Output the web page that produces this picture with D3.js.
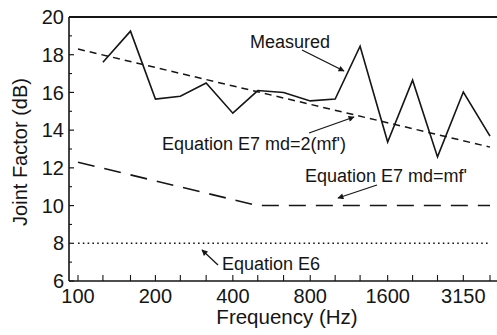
<!DOCTYPE html>
<html>
<head>
<meta charset="utf-8">
<script src="https://cdn.jsdelivr.net/npm/d3@7/dist/d3.min.js"></script>
<style>
  html, body { margin: 0; padding: 0; background: #fff; }
  svg { display: block; font-family: "Liberation Sans", Arial, Helvetica, sans-serif; }
</style>
</head>
<body>
<svg id="chart" width="497" height="335"></svg>
<script>
// ---- data ----
const bands = [100,125,160,200,250,315,400,500,630,800,1000,1250,1600,2000,2500,3150,4000];
const measuredFreq = [125,160,200,250,315,400,500,630,800,1000,1250,1600,2000,2500,3150,4000];
const measured =     [17.6,19.25,15.65,15.8,16.5,14.9,16.1,16.0,15.55,15.65,18.45,13.37,16.65,12.58,16.02,13.68];
const e7TwoFreq = [100, 4000];
const e7Two =     [18.3, 13.1];
const e7OneFreq = [100, 500, 4000];
const e7One =     [12.3, 10.0, 10.0];
const e6Freq = [100, 4000];
const e6 =     [8, 8];
const yTicks = [6, 8, 10, 12, 14, 16, 18, 20];
const yMinor = [7, 9, 11, 13, 15, 17, 19];
const xLabels = [100, 200, 400, 800, 1600, 3150];

// ---- layout ----
const svg = d3.select("#chart");
const pL = 69, pR = 497, pT = 17, pB = 281;
const x = d3.scaleLog().domain([100, 4000]).range([78, 490]);
const y = d3.scaleLinear().domain([6, 20]).range([pB, pT]);
const ink = "#151515";

// axes lines
svg.append("line").attr("x1", pL).attr("x2", pL).attr("y1", pT).attr("y2", pB)
  .attr("stroke", ink).attr("stroke-width", 1.6);
svg.append("line").attr("x1", pL).attr("x2", pR).attr("y1", pB).attr("y2", pB)
  .attr("stroke", ink).attr("stroke-width", 1.6);
svg.append("line").attr("x1", pL).attr("x2", pR).attr("y1", pT).attr("y2", pT)
  .attr("stroke", ink).attr("stroke-width", 1.8);

// y ticks (inward)
svg.append("g").selectAll("line").data(yTicks).join("line")
  .attr("x1", pL).attr("x2", pL + 5).attr("y1", d => y(d)).attr("y2", d => y(d))
  .attr("stroke", ink).attr("stroke-width", 1.2);
svg.append("g").selectAll("line").data(yMinor).join("line")
  .attr("x1", pL).attr("x2", pL + 3).attr("y1", d => y(d)).attr("y2", d => y(d))
  .attr("stroke", ink).attr("stroke-width", 1.1);
svg.append("g").selectAll("text").data(yTicks).join("text")
  .attr("x", pL - 5).attr("y", d => y(d)).attr("dy", "0.36em")
  .attr("text-anchor", "end").attr("font-size", 20).attr("fill", ink)
  .text(d => d);

// x ticks (inward)
svg.append("g").selectAll("line").data(bands).join("line")
  .attr("x1", d => x(d)).attr("x2", d => x(d)).attr("y1", pB).attr("y2", pB - 6)
  .attr("stroke", ink).attr("stroke-width", 1.1);
svg.append("g").selectAll("text").data(xLabels).join("text")
  .attr("x", d => x(d)).attr("y", pB + 22)
  .attr("text-anchor", "middle").attr("font-size", 20).attr("fill", ink)
  .text(d => d);

// axis titles
svg.append("text").attr("x", 287).attr("y", 324).attr("text-anchor", "middle")
  .attr("font-size", 20.5).attr("fill", ink).text("Frequency (Hz)");
svg.append("text").attr("transform", "translate(27,152) rotate(-90)")
  .attr("text-anchor", "middle").attr("font-size", 20).attr("fill", ink)
  .text("Joint Factor (dB)");

// lines
const line = d3.line().x(d => x(d[0])).y(d => y(d[1]));
function series(fr, vals) { return fr.map((f, i) => [f, vals[i]]); }

svg.append("path").datum(series(e6Freq, e6)).attr("d", line)
  .attr("fill", "none").attr("stroke", ink).attr("stroke-width", 1.6)
  .attr("stroke-dasharray", "1.6 3.2");
svg.append("path").datum(series(e7OneFreq, e7One)).attr("d", line)
  .attr("fill", "none").attr("stroke", ink).attr("stroke-width", 1.6)
  .attr("stroke-dasharray", "17 10");
svg.append("path").datum(series(e7TwoFreq, e7Two)).attr("d", line)
  .attr("fill", "none").attr("stroke", ink).attr("stroke-width", 1.5)
  .attr("stroke-dasharray", "7 5");
svg.append("path").datum(series(measuredFreq, measured)).attr("d", line)
  .attr("fill", "none").attr("stroke", ink).attr("stroke-width", 1.6)
  .attr("stroke-linejoin", "miter");

// annotations
const notes = [
  { text: "Measured", tx: 250, ty: 48, x1: 302, y1: 50, x2: 344, y2: 71 },
  { text: "Equation E7 md=2(mf')", tx: 162, ty: 150, x1: 309, y1: 133, x2: 354, y2: 117 },
  { text: "Equation E7 md=mf'", tx: 305, ty: 182, x1: 377, y1: 185, x2: 338, y2: 198 },
  { text: "Equation E6", tx: 222, ty: 270, x1: 218, y1: 265, x2: 202, y2: 250 }
];
const defs = svg.append("defs");
defs.append("marker").attr("id", "ah").attr("viewBox", "0 0 10 10")
  .attr("refX", 9).attr("refY", 5).attr("markerWidth", 9).attr("markerHeight", 6)
  .attr("markerUnits", "userSpaceOnUse").attr("orient", "auto")
  .append("path").attr("d", "M0,0 L10,5 L0,10 Z").attr("fill", ink);

const g = svg.append("g");
g.selectAll("text").data(notes).join("text")
  .attr("x", d => d.tx).attr("y", d => d.ty).attr("font-size", 18).attr("fill", ink)
  .text(d => d.text);
g.selectAll("line").data(notes).join("line")
  .attr("x1", d => d.x1).attr("y1", d => d.y1).attr("x2", d => d.x2).attr("y2", d => d.y2)
  .attr("stroke", ink).attr("stroke-width", 1.3).attr("marker-end", "url(#ah)");
</script>
</body>
</html>
